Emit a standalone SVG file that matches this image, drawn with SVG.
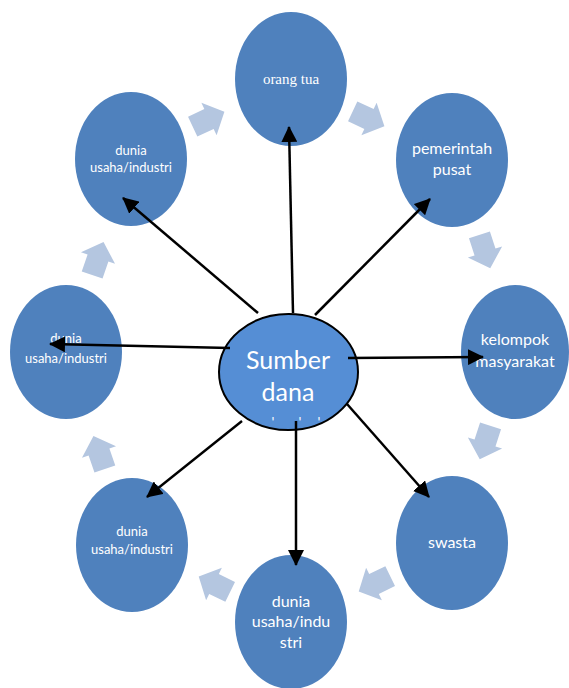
<svg xmlns="http://www.w3.org/2000/svg" width="569" height="688" viewBox="0 0 569 688">
<style>
.node{fill:#4F81BD;}
.lbl{fill:#FFFFFF;font-family:Lato,"Open Sans",sans-serif;text-anchor:middle;}
.cyc{fill:#B4C6E0;}
.con{stroke:#000;stroke-width:2.5;fill:none;marker-end:url(#ah);}
</style>
<defs>
<marker id="ah" viewBox="0 0 16 16" refX="15" refY="8" markerWidth="16" markerHeight="16" markerUnits="userSpaceOnUse" orient="auto">
<path d="M0,0 L16,8 L0,16 Z" fill="#000"/>
</marker>
<path id="blk" d="M-18,-11 L0,-11 L0,-18 L17,0 L0,18 L0,11 L-18,11 Z"/>
</defs>
<rect width="569" height="688" fill="#FFFFFF"/>

<g id="cycle-arrows" class="cyc">
<use href="#blk" transform="translate(209,119) rotate(-25)"/>
<use href="#blk" transform="translate(369,119) rotate(25)"/>
<use href="#blk" transform="translate(485,252) rotate(72)"/>
<use href="#blk" transform="translate(485,443) rotate(108)"/>
<use href="#blk" transform="translate(374,584) rotate(154)"/>
<use href="#blk" transform="translate(214,584) rotate(206)"/>
<use href="#blk" transform="translate(99,452) rotate(251)"/>
<use href="#blk" transform="translate(98,258) rotate(289)"/>
</g>

<g id="node-orang-tua">
<ellipse class="node" cx="291" cy="79" rx="56" ry="67"/>
<text x="291" y="84" fill="#FFFFFF" font-family="'Liberation Serif',serif" font-size="15" text-anchor="middle">orang tua</text>
</g>
<g id="node-pemerintah">
<ellipse class="node" cx="452" cy="160" rx="56" ry="67"/>
<text class="lbl" x="452" font-size="16"><tspan x="452" y="154">pemerintah</tspan><tspan x="452" y="175">pusat</tspan></text>
</g>
<g id="node-kelompok">
<ellipse class="node" cx="515" cy="352" rx="54" ry="67"/>
<text class="lbl" font-size="16"><tspan x="515" y="345">kelompok</tspan><tspan x="515" y="367">masyarakat</tspan></text>
</g>
<g id="node-swasta">
<ellipse class="node" cx="452" cy="543" rx="56" ry="67"/>
<text class="lbl" x="452" y="548" font-size="16">swasta</text>
</g>
<g id="node-bottom">
<ellipse class="node" cx="291" cy="622" rx="56" ry="67"/>
<text class="lbl" font-size="16"><tspan x="291" y="607">dunia</tspan><tspan x="291" y="627">usaha/indu</tspan><tspan x="291" y="648">stri</tspan></text>
</g>
<g id="node-bottom-left">
<ellipse class="node" cx="132" cy="545" rx="56" ry="67"/>
<text class="lbl" font-size="13"><tspan x="132" y="536">dunia</tspan><tspan x="132" y="554">usaha/industri</tspan></text>
</g>
<g id="node-left">
<ellipse class="node" cx="66" cy="352" rx="56" ry="67"/>
<text class="lbl" font-size="13"><tspan x="66" y="343">dunia</tspan><tspan x="66" y="363">usaha/industri</tspan></text>
</g>
<g id="node-top-left">
<ellipse class="node" cx="131" cy="159" rx="56" ry="67"/>
<text class="lbl" font-size="13"><tspan x="131" y="155">dunia</tspan><tspan x="131" y="172">usaha/industri</tspan></text>
</g>

<g id="node-sumber-dana">
<ellipse cx="288.5" cy="372" rx="69.5" ry="58" fill="#558ED5" stroke="#000" stroke-width="2"/>
<text class="lbl" font-size="25"><tspan x="288" y="369">Sumber</tspan><tspan x="288" y="401">dana</tspan></text>
<text class="lbl" font-size="14"><tspan x="273" y="427">'</tspan><tspan x="300" y="427">'</tspan><tspan x="319" y="427">'</tspan></text>
</g>

<g id="connectors">
<line class="con" x1="293" y1="313" x2="289" y2="127"/>
<line class="con" x1="315" y1="315" x2="430" y2="199"/>
<line class="con" x1="348" y1="358" x2="483" y2="357"/>
<line class="con" x1="347" y1="404" x2="429" y2="497"/>
<line class="con" x1="296" y1="421" x2="296" y2="565"/>
<line class="con" x1="242" y1="421" x2="147" y2="497"/>
<line class="con" x1="230" y1="348" x2="50" y2="344"/>
<line class="con" x1="258" y1="313" x2="123" y2="198"/>
</g>
</svg>
